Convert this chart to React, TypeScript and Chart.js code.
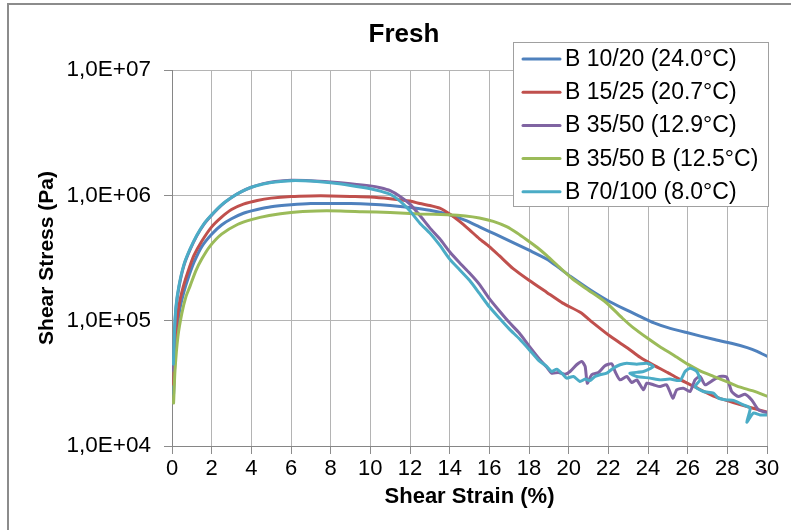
import { useEffect, useRef } from "react";
import { Chart, registerables } from "chart.js";

Chart.register(...registerables);

const FONT = "'Liberation Sans', Arial, sans-serif";

const seriesLabels = [
  "B 10/20 (24.0°C)",
  "B 15/25 (20.7°C)",
  "B 35/50 (12.9°C)",
  "B 35/50 B (12.5°C)",
  "B 70/100 (8.0°C)",
];
const seriesColors = ["#4F81BD", "#C0504D", "#8064A2", "#9BBB59", "#4BACC6"];

const xTickStep = 2;
const yDecades = [1e4, 1e5, 1e6, 1e7];

// B 10/20
const b1020Strain = [0.08, 0.15, 0.25, 0.4, 0.6, 0.8, 1.1, 1.5, 2.0, 2.5, 3.0, 3.6, 4.3, 5.0, 6.0, 7.0, 8.0, 9.0, 10.0, 11.0, 12.0, 13.0, 14.0, 14.8, 15.5, 16.3, 17.2, 18.0, 18.9, 19.5, 20.1, 21.0, 21.9, 22.8, 23.6, 24.3, 25.0, 26.0, 27.3, 28.2, 29.0, 29.5, 30.0];
const b1020Stress = [2.6e4, 5e4, 8.5e4, 1.25e5, 1.7e5, 2.15e5, 2.9e5, 3.9e5, 4.9e5, 5.8e5, 6.5e5, 7.2e5, 7.7e5, 8.1e5, 8.4e5, 8.6e5, 8.6e5, 8.6e5, 8.5e5, 8.3e5, 8.0e5, 7.6e5, 7.0e5, 6.3e5, 5.6e5, 4.9e5, 4.2e5, 3.65e5, 3.1e5, 2.65e5, 2.25e5, 1.8e5, 1.47e5, 1.24e5, 1.08e5, 9.6e4, 8.8e4, 8.0e4, 7.1e4, 6.6e4, 6.1e4, 5.7e4, 5.2e4];

// B 15/25
const b1525Strain = [0.08, 0.15, 0.25, 0.4, 0.6, 0.8, 1.1, 1.5, 2.0, 2.5, 3.0, 3.6, 4.3, 5.0, 6.0, 7.0, 8.0, 9.0, 10.0, 11.0, 12.0, 12.5, 13.0, 13.5, 14.0, 14.5, 15.0, 15.5, 16.0, 16.5, 17.2, 18.0, 18.9, 19.7, 20.6, 21.2, 22.1, 23.0, 23.6, 24.3, 25.0, 25.6, 26.3, 27.3, 28.0, 28.6, 29.3, 30.0];
const b1525Stress = [3.1e4, 6e4, 1e5, 1.45e5, 1.95e5, 2.45e5, 3.3e5, 4.3e5, 5.6e5, 6.7e5, 7.7e5, 8.5e5, 9.1e5, 9.5e5, 9.8e5, 9.9e5, 9.9e5, 9.8e5, 9.7e5, 9.4e5, 9.0e5, 8.6e5, 8.3e5, 7.9e5, 7.1e5, 6.2e5, 5.3e5, 4.5e5, 3.9e5, 3.3e5, 2.6e5, 2.1e5, 1.68e5, 1.38e5, 1.16e5, 9.7e4, 7.5e4, 6.0e4, 5.1e4, 4.4e4, 3.85e4, 3.4e4, 3.0e4, 2.5e4, 2.3e4, 2.15e4, 2.0e4, 1.87e4];

// B 35/50
const b3550Strain = [0.07, 0.12, 0.2, 0.35, 0.6, 0.9, 1.25, 1.6, 2.0, 2.5, 3.0, 3.5, 4.0, 4.6, 5.2, 6.0, 7.0, 8.0, 9.0, 10.0, 10.5, 11.0, 11.5, 12.0, 12.5, 13.0, 13.5, 14.0, 14.5, 15.0, 15.5, 16.0, 16.5, 17.0, 17.5, 18.0, 18.5, 18.89, 19.14, 19.48, 19.82, 20.07, 20.4, 20.66, 20.83, 20.94, 21.16, 21.5, 21.83, 22.17, 22.34, 22.59, 22.93, 23.18, 23.43, 23.77, 23.94, 24.27, 24.61, 24.94, 25.25, 25.45, 25.78, 26.12, 26.37, 26.62, 26.88, 27.3, 27.63, 27.97, 28.22, 28.56, 28.89, 29.23, 29.57, 29.99];
const b3550Stress = [4.0e4, 7.5e4, 1.25e5, 1.85e5, 2.75e5, 3.65e5, 4.75e5, 5.85e5, 6.95e5, 8.35e5, 9.6e5, 1.07e6, 1.16e6, 1.24e6, 1.29e6, 1.32e6, 1.31e6, 1.28e6, 1.24e6, 1.19e6, 1.15e6, 1.09e6, 9.8e5, 8.5e5, 6.9e5, 5.5e5, 4.5e5, 3.55e5, 2.9e5, 2.4e5, 1.95e5, 1.5e5, 1.2e5, 9.7e4, 8.0e4, 6.3e4, 5.0e4, 4.26e4, 3.81e4, 3.86e4, 3.74e4, 3.93e4, 4.45e4, 4.73e4, 4.31e4, 3.17e4, 3.7e4, 3.86e4, 4.37e4, 4.53e4, 3.93e4, 3.37e4, 3.59e4, 3.21e4, 3.37e4, 2.81e4, 3.17e4, 3.08e4, 2.98e4, 3.08e4, 2.41e4, 2.81e4, 2.89e4, 2.72e4, 3.37e4, 3.59e4, 3.08e4, 3.37e4, 3.59e4, 3.54e4, 2.72e4, 2.48e4, 2.59e4, 2.33e4, 1.94e4, 1.85e4];

// B 35/50 B
const b3550bStrain = [0.08, 0.15, 0.3, 0.5, 0.7, 0.9, 1.2, 1.5, 1.9, 2.5, 3.3, 4.0, 4.9, 6.0, 7.3, 8.5, 9.6, 11.0, 12.5, 13.9, 14.8, 15.5, 16.2, 16.9, 17.4, 17.9, 18.4, 18.9, 19.5, 20.2, 21.0, 21.9, 22.7, 23.25, 24.0, 24.6, 25.3, 26.0, 26.6, 27.3, 28.0, 28.6, 29.3, 30.0];
const b3550bStress = [2.2e4, 4e4, 7.5e4, 1.15e5, 1.55e5, 1.87e5, 2.5e5, 3.1e5, 3.9e5, 4.9e5, 5.85e5, 6.4e5, 6.9e5, 7.3e5, 7.5e5, 7.5e5, 7.4e5, 7.3e5, 7.1e5, 7.0e5, 6.85e5, 6.6e5, 6.2e5, 5.6e5, 5.0e5, 4.4e5, 3.85e5, 3.3e5, 2.7e5, 2.15e5, 1.75e5, 1.39e5, 1.05e5, 8.8e4, 7.2e4, 6.2e4, 5.3e4, 4.5e4, 4.0e4, 3.6e4, 3.25e4, 2.96e4, 2.75e4, 2.5e4];

// B 70/100
const b70100Strain = [0.07, 0.12, 0.2, 0.35, 0.6, 0.9, 1.25, 1.6, 2.0, 2.5, 3.0, 3.5, 4.0, 4.6, 5.2, 6.0, 7.0, 8.0, 9.0, 10.0, 10.5, 11.0, 11.5, 12.0, 12.5, 13.0, 13.5, 14.0, 14.5, 15.0, 15.5, 16.0, 16.5, 17.0, 17.5, 18.0, 18.5, 18.89, 19.14, 19.4, 19.65, 19.9, 20.24, 20.57, 20.83, 21.08, 21.33, 21.58, 21.92, 22.25, 22.59, 22.93, 23.43, 23.94, 24.27, 23.77, 23.09, 23.43, 24.1, 24.61, 25.11, 25.62, 25.87, 26.12, 26.46, 26.62, 26.37, 26.79, 27.3, 27.55, 27.97, 28.31, 28.81, 29.15, 28.98, 29.31, 29.65, 29.99];
const b70100Stress = [4.5e4, 8e4, 1.3e5, 1.9e5, 2.8e5, 3.7e5, 4.8e5, 5.9e5, 7.0e5, 8.4e5, 9.6e5, 1.07e6, 1.16e6, 1.23e6, 1.28e6, 1.31e6, 1.3e6, 1.26e6, 1.2e6, 1.13e6, 1.08e6, 1.02e6, 9.0e5, 7.5e5, 6.0e5, 5.0e5, 4.0e5, 3.1e5, 2.55e5, 2.1e5, 1.65e5, 1.29e5, 1.05e5, 8.6e4, 7.2e4, 5.9e4, 4.8e4, 4.31e4, 3.93e4, 4.1e4, 3.81e4, 3.48e4, 3.59e4, 3.27e4, 3.42e4, 3.33e4, 3.59e4, 3.7e4, 3.81e4, 4.18e4, 4.45e4, 4.58e4, 4.5e4, 4.58e4, 4.31e4, 3.93e4, 3.81e4, 3.59e4, 3.48e4, 3.37e4, 3.42e4, 3.33e4, 3.93e4, 4.18e4, 3.93e4, 3.37e4, 2.98e4, 2.72e4, 2.64e4, 2.41e4, 2.33e4, 2.31e4, 2.13e4, 2.0e4, 1.55e4, 1.83e4, 1.77e4, 1.77e4];

const strainSeries = [b1020Strain, b1525Strain, b3550Strain, b3550bStrain, b70100Strain];
const stressSeries = [b1020Stress, b1525Stress, b3550Stress, b3550bStress, b70100Stress];

function toPoints(xs: number[], ys: number[]) {
  return xs.map((x, i) => ({ x, y: ys[i] }));
}

function formatSci(v: number) {
  const e = Math.round(Math.log10(v));
  const m = v / Math.pow(10, e);
  const sign = e >= 0 ? "+" : "-";
  return `${m.toFixed(1).replace(".", ",")}E${sign}${String(Math.abs(e)).padStart(2, "0")}`;
}

// Page frame and white background
const framePlugin = {
  id: "frame",
  beforeDraw(chart: any) {
    const { ctx, width, height } = chart;
    ctx.save();
    ctx.fillStyle = "#ffffff";
    ctx.fillRect(0, 0, width, height);
    ctx.strokeStyle = "#8c8c8c";
    ctx.lineWidth = 2;
    ctx.beginPath();
    ctx.moveTo(8, height);
    ctx.lineTo(8, 4);
    ctx.lineTo(width, 4);
    ctx.stroke();
    ctx.restore();
  },
};

// Title and in-plot legend box
const overlayPlugin = {
  id: "overlay",
  afterDraw(chart: any) {
    const { ctx } = chart;
    ctx.save();
    ctx.fillStyle = "#000000";
    ctx.font = `bold 26px ${FONT}`;
    ctx.textAlign = "center";
    ctx.textBaseline = "alphabetic";
    ctx.fillText("Fresh", 404, 42);

    const box = { left: 513.5, top: 42.5, width: 255, height: 164 };
    ctx.fillStyle = "#ffffff";
    ctx.fillRect(box.left, box.top, box.width, box.height);
    ctx.strokeStyle = "#a0a0a0";
    ctx.lineWidth = 1;
    ctx.strokeRect(box.left, box.top, box.width, box.height);

    ctx.font = `23px ${FONT}`;
    ctx.textAlign = "left";
    chart.data.datasets.forEach((ds: any, i: number) => {
      const base = 66 + i * 33.2;
      ctx.strokeStyle = ds.borderColor;
      ctx.lineWidth = 3;
      ctx.lineCap = "round";
      ctx.beginPath();
      ctx.moveTo(523, base - 7);
      ctx.lineTo(560, base - 7);
      ctx.stroke();
      ctx.fillStyle = "#000000";
      ctx.fillText(ds.label, 565, base);
    });
    ctx.restore();
  },
};

export default function App() {
  const canvasRef = useRef<HTMLCanvasElement | null>(null);

  useEffect(() => {
    if (!canvasRef.current) return;
    const drawOrder = [4, 3, 2, 1, 0];
    const chart = new Chart(canvasRef.current, {
      type: "scatter",
      data: {
        datasets: seriesLabels.map((label, i) => ({
          label,
          data: toPoints(strainSeries[i], stressSeries[i]),
          showLine: true,
          borderColor: seriesColors[i],
          backgroundColor: seriesColors[i],
          borderWidth: 3,
          pointRadius: 0,
          tension: 0.2,
          borderJoinStyle: "round" as const,
          borderCapStyle: "round" as const,
          order: drawOrder[i],
        })),
      },
      options: {
        responsive: false,
        animation: false,
        devicePixelRatio: 1,
        layout: { padding: { top: 70, right: 24, left: 0, bottom: 0 } },
        plugins: {
          legend: { display: false },
          title: { display: false },
          tooltip: { enabled: false },
        },
        scales: {
          x: {
            type: "linear",
            min: 0,
            max: 30,
            ticks: {
              stepSize: xTickStep,
              color: "#000000",
              font: { family: FONT, size: 22 },
              padding: 2,
              maxRotation: 0,
            },
            grid: { color: "#b4b4b4", lineWidth: 1, tickLength: 8, tickColor: "#8c8c8c" },
            border: { color: "#868686", width: 1 },
            title: {
              display: true,
              text: "Shear Strain (%)",
              color: "#000000",
              font: { family: FONT, size: 22, weight: "bold" },
              padding: { top: 0, bottom: 20 },
            },
            afterFit(scale: any) {
              scale.height = 84;
            },
          },
          y: {
            type: "logarithmic",
            min: 1e4,
            max: 1e7,
            afterBuildTicks(scale: any) {
              scale.ticks = yDecades.map((value) => ({ value }));
            },
            ticks: {
              color: "#000000",
              font: { family: FONT, size: 22.5 },
              padding: 13,
              callback: (v: any) => formatSci(Number(v)),
            },
            grid: { color: "#b4b4b4", lineWidth: 1, tickLength: 8, tickColor: "#8c8c8c" },
            border: { color: "#868686", width: 1 },
            title: {
              display: true,
              text: "Shear Stress (Pa)",
              color: "#000000",
              font: { family: FONT, size: 21, weight: "bold" },
              padding: { top: 35, bottom: 0 },
            },
            afterFit(scale: any) {
              scale.width = 172;
            },
          },
        },
      },
      plugins: [framePlugin, overlayPlugin],
    });
    return () => chart.destroy();
  }, []);

  return (
    <div style={{ position: "fixed", left: 0, top: 0, width: 791, height: 530, background: "#fff" }}>
      <canvas ref={canvasRef} width={791} height={530} style={{ display: "block" }} />
    </div>
  );
}
